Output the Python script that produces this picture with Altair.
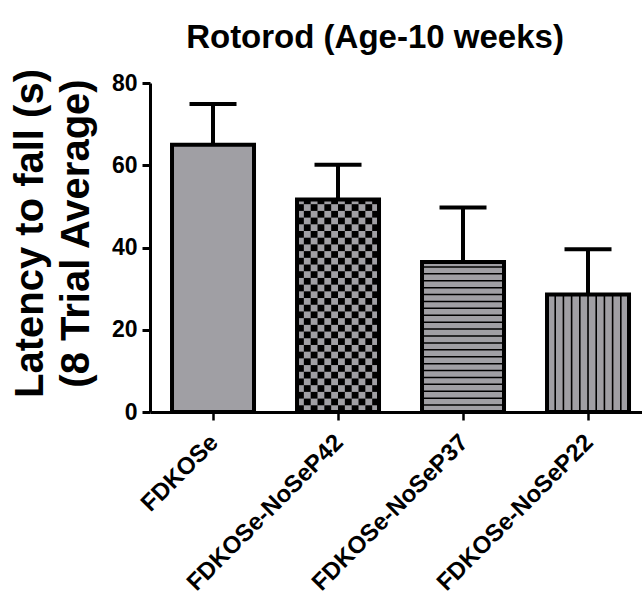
import altair as alt
import pandas as pd
import numpy as np

groups = ["FDKOSe", "FDKOSe-NoSeP42", "FDKOSe-NoSeP37", "FDKOSe-NoSeP22"]
means = [65.0, 51.7, 36.5, 28.6]
sems = [9.9, 8.4, 13.2, 11.0]
y_ticks = [0, 20, 40, 60, 80]

title_text = "Rotorod (Age-10 weeks)"
y_title = ["Latency to fall (s)", "(8 Trial Average)"]

FONT = "Liberation Sans"
GRAY = "#a09fa4"

df = pd.DataFrame({"group": groups, "mean": means, "sem": sems})
df["upper"] = df["mean"] + df["sem"]

# --- fill patterns (decoration) ---
# checkerboard for group 2
cell_h = 1.63
n_cols = 12
chk = []
m2 = means[1]
r = 0
while r * cell_h < m2:
    for c in range(n_cols):
        if (r + c) % 2 == 0:
            chk.append({"group": groups[1], "col": c, "y0": r * cell_h,
                        "y1": min((r + 1) * cell_h, m2)})
    r += 1
chk_df = pd.DataFrame(chk)

# horizontal stripes for group 3
stripe_gap = 1.68
hs = []
k = 1
while k * stripe_gap < means[2] - 0.6:
    hs.append({"group": groups[2], "y0": k * stripe_gap - 0.18, "y1": k * stripe_gap + 0.18})
    k += 1
hs_df = pd.DataFrame(hs)

# vertical stripes for group 4
vs_df = pd.DataFrame({"group": [groups[3]] * 9, "line": list(range(1, 10)),
                      "y0": [0.0] * 9, "y1": [means[3]] * 9})

x_scale = alt.Scale(domain=groups, paddingInner=0.344, paddingOuter=0.14, align=0.629)
y_scale = alt.Scale(domain=[0, 80], nice=False)

x_axis = alt.Axis(title=None, labelAngle=-45, labelPadding=10, labelOffset=-7, labelLimit=400,
                  labelFontSize=24, tickSize=8, tickWidth=2.5, grid=False)
y_axis = alt.Axis(title=y_title, values=y_ticks, labelFontSize=23, labelPadding=5,
                  tickSize=8, tickWidth=3, grid=False,
                  titleFont=FONT, titleFontWeight="bold", titleFontSize=40,
                  titleColor="black", titleAngle=270, titleAlign="center",
                  titleBaseline="alphabetic", titleX=-108, titleY=150, titleLineHeight=46)

X = alt.X("group:N", scale=x_scale, axis=x_axis, sort=groups)

def Y(field):
    return alt.Y(field, scale=y_scale, axis=y_axis)

fill = alt.Chart(df).mark_bar(fill=GRAY, strokeWidth=0).encode(
    x=X, y=Y("mean:Q"))

checker = alt.Chart(chk_df).mark_rect(fill="black", strokeWidth=0).encode(
    x=X,
    xOffset=alt.XOffset("col:O", scale=alt.Scale(paddingInner=0, paddingOuter=0)),
    y=Y("y0:Q"), y2="y1:Q")

hstripes = alt.Chart(hs_df).mark_bar(fill="black", strokeWidth=0).encode(
    x=X, y=Y("y0:Q"), y2="y1:Q")

vstripes = alt.Chart(vs_df).mark_rule(color="black", strokeWidth=1.6).encode(
    x=X,
    xOffset=alt.XOffset("line:O", scale=alt.Scale(paddingInner=0, paddingOuter=0.5)),
    y=Y("y0:Q"), y2="y1:Q")

outline = alt.Chart(df).mark_bar(fillOpacity=0, stroke="black", strokeWidth=4).encode(
    x=X, y=Y("mean:Q"))

stem = alt.Chart(df).mark_rule(color="black", strokeWidth=4).encode(
    x=X, y=Y("mean:Q"), y2="upper:Q")

cap = alt.Chart(df).mark_tick(color="black", thickness=4, size=47, opacity=1).encode(
    x=X, y=Y("upper:Q"))

chart = alt.layer(fill, checker, hstripes, vstripes, outline, stem, cap).resolve_scale(
    xOffset="independent"
).properties(
    width=492, height=329,
    view=alt.ViewBackground(stroke="transparent", strokeWidth=0, strokeOpacity=0),
    title=alt.TitleParams(title_text, font=FONT, fontWeight="bold", fontSize=33,
                          color="black", anchor="middle", dx=-21, offset=14),
    padding={"left": 150, "top": 83, "right": 0, "bottom": 186},
    autosize=alt.AutoSizeParams(type="none"),
).configure_view(stroke="transparent", strokeWidth=0, strokeOpacity=0).configure(
    background="white",
    style={"cell": {"stroke": "transparent", "strokeWidth": 0}},
).configure_axis(
    labelFont=FONT, labelFontWeight="bold", labelColor="black",
    tickColor="black", domainColor="black", domainWidth=3, grid=False
)

chart.save("out.html", embed_options={"renderer": "svg", "actions": False})
